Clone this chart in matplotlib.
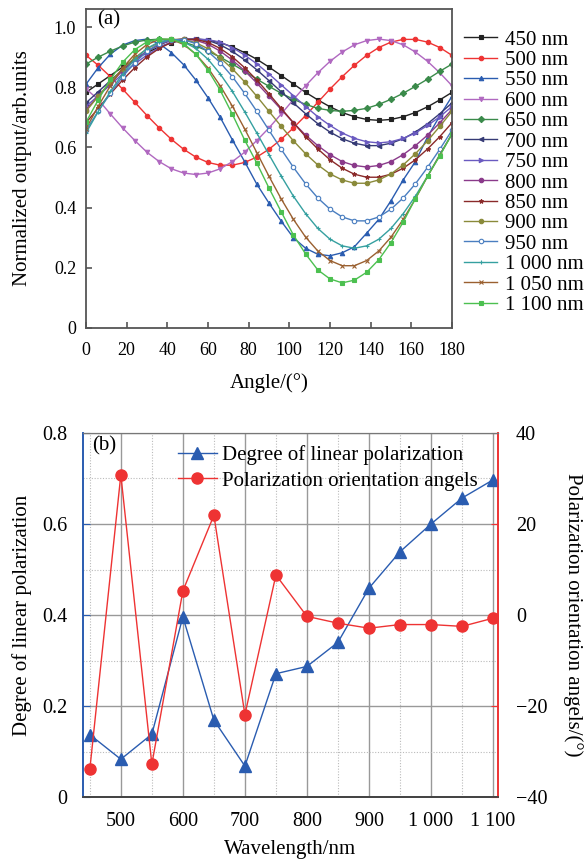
import matplotlib
matplotlib.use('Agg')
import matplotlib.pyplot as plt
from matplotlib.ticker import MultipleLocator

plt.rcParams['font.family'] = ['Liberation Serif', 'DejaVu Serif']
plt.rcParams['axes.unicode_minus'] = True

# ===== データ (a) =====
angles = [0, 6, 12, 18, 24, 30, 36, 42, 48, 54, 60, 66, 72, 78, 84, 90,
          96, 102, 108, 114, 120, 126, 132, 138, 144, 150, 156, 162, 168, 174, 180]

wl_labels = ['450 nm', '500 nm', '550 nm', '600 nm', '650 nm', '700 nm', '750 nm',
             '800 nm', '850 nm', '900 nm', '950 nm', '1 000 nm', '1 050 nm', '1 100 nm']

i450 = [0.783, 0.811, 0.839, 0.867, 0.893, 0.915, 0.934, 0.948, 0.957, 0.960, 0.957, 0.948, 0.934, 0.915, 0.893, 0.867,
        0.839, 0.811, 0.783, 0.758, 0.735, 0.716, 0.702, 0.693, 0.690, 0.693, 0.702, 0.716, 0.735, 0.758, 0.783]
i500 = [0.906, 0.873, 0.835, 0.794, 0.750, 0.706, 0.665, 0.627, 0.594, 0.568, 0.550, 0.541, 0.541, 0.550, 0.568, 0.594,
        0.627, 0.665, 0.706, 0.750, 0.794, 0.835, 0.873, 0.906, 0.932, 0.950, 0.959, 0.959, 0.950, 0.932, 0.906]
i550 = [0.810, 0.865, 0.910, 0.940, 0.955, 0.960, 0.945, 0.915, 0.875, 0.824, 0.765, 0.700, 0.625, 0.553, 0.478, 0.415,
        0.355, 0.300, 0.265, 0.245, 0.240, 0.250, 0.270, 0.315, 0.361, 0.423, 0.492, 0.553, 0.635, 0.705, 0.770]
i600 = [0.795, 0.759, 0.711, 0.665, 0.623, 0.584, 0.553, 0.529, 0.515, 0.510, 0.515, 0.529, 0.553, 0.584, 0.623, 0.665,
        0.711, 0.759, 0.805, 0.848, 0.886, 0.917, 0.941, 0.955, 0.960, 0.955, 0.941, 0.917, 0.886, 0.848, 0.805]
i650 = [0.877, 0.900, 0.920, 0.937, 0.950, 0.957, 0.960, 0.957, 0.950, 0.937, 0.920, 0.900, 0.877, 0.853, 0.827, 0.803,
        0.780, 0.760, 0.743, 0.730, 0.723, 0.720, 0.723, 0.730, 0.743, 0.760, 0.780, 0.803, 0.827, 0.853, 0.877]
i700 = [0.748, 0.785, 0.822, 0.858, 0.891, 0.919, 0.941, 0.956, 0.960, 0.960, 0.956, 0.941, 0.919, 0.891, 0.858, 0.822,
        0.785, 0.748, 0.712, 0.679, 0.651, 0.629, 0.614, 0.606, 0.606, 0.614, 0.629, 0.651, 0.679, 0.712, 0.748]
i750 = [0.736, 0.772, 0.808, 0.844, 0.878, 0.907, 0.932, 0.950, 0.958, 0.960, 0.958, 0.950, 0.932, 0.907, 0.878, 0.844,
        0.808, 0.772, 0.736, 0.702, 0.673, 0.648, 0.630, 0.619, 0.615, 0.619, 0.630, 0.648, 0.673, 0.702, 0.736]
i800 = [0.726, 0.770, 0.814, 0.855, 0.890, 0.920, 0.943, 0.956, 0.961, 0.956, 0.943, 0.920, 0.890, 0.855, 0.814, 0.770,
        0.726, 0.682, 0.641, 0.606, 0.576, 0.553, 0.540, 0.535, 0.540, 0.553, 0.576, 0.606, 0.641, 0.682, 0.726]
i850 = [0.682, 0.730, 0.778, 0.824, 0.865, 0.901, 0.929, 0.949, 0.959, 0.959, 0.949, 0.929, 0.901, 0.865, 0.824, 0.778,
        0.730, 0.682, 0.636, 0.595, 0.559, 0.531, 0.511, 0.501, 0.501, 0.511, 0.531, 0.559, 0.595, 0.636, 0.682]
i900 = [0.720, 0.770, 0.818, 0.861, 0.898, 0.928, 0.948, 0.959, 0.959, 0.948, 0.928, 0.898, 0.861, 0.818, 0.770, 0.720,
        0.670, 0.622, 0.579, 0.542, 0.512, 0.492, 0.481, 0.481, 0.492, 0.512, 0.542, 0.579, 0.622, 0.670, 0.720]
i950 = [0.657, 0.720, 0.780, 0.835, 0.882, 0.919, 0.945, 0.958, 0.958, 0.945, 0.919, 0.882, 0.835, 0.780, 0.720, 0.657,
        0.594, 0.534, 0.479, 0.432, 0.395, 0.369, 0.356, 0.356, 0.369, 0.395, 0.432, 0.479, 0.534, 0.594, 0.657]
i1000 = [0.648, 0.719, 0.786, 0.844, 0.893, 0.929, 0.951, 0.959, 0.951, 0.929, 0.893, 0.844, 0.786, 0.719, 0.648, 0.576,
         0.505, 0.438, 0.380, 0.331, 0.295, 0.273, 0.265, 0.273, 0.295, 0.331, 0.380, 0.438, 0.505, 0.576, 0.645]
i1050 = [0.662, 0.737, 0.805, 0.864, 0.910, 0.942, 0.959, 0.959, 0.942, 0.910, 0.864, 0.805, 0.737, 0.662, 0.583, 0.504,
         0.429, 0.361, 0.302, 0.256, 0.224, 0.207, 0.207, 0.224, 0.256, 0.302, 0.361, 0.429, 0.504, 0.575, 0.645]
i1100 = [0.684, 0.758, 0.826, 0.883, 0.925, 0.951, 0.960, 0.960, 0.945, 0.910, 0.857, 0.790, 0.710, 0.625, 0.548, 0.465,
         0.386, 0.309, 0.246, 0.193, 0.163, 0.150, 0.159, 0.185, 0.227, 0.284, 0.352, 0.430, 0.505, 0.572, 0.645]

# ===== データ (b) =====
wavelength = [450, 500, 550, 600, 650, 700, 750, 800, 850, 900, 950, 1000, 1050, 1100]
dolp = [0.137, 0.083, 0.138, 0.396, 0.169, 0.068, 0.271, 0.287, 0.340, 0.459, 0.539, 0.600, 0.657, 0.697]
orient = [-33.9, 30.8, -32.8, 5.3, 21.9, -21.9, 8.8, -0.3, -1.8, -2.9, -2.1, -2.1, -2.5, -0.7]

# ===== スタイル =====
curves = [i450, i500, i550, i600, i650, i700, i750, i800, i850, i900, i950, i1000, i1050, i1100]
colors = ['#222222', '#ee3333', '#2a5cb0', '#b068c0', '#3a8a4a', '#353a75', '#6a5ac0',
          '#8a3a8a', '#8a2a2a', '#8a8a3a', '#4a7ec0', '#35a0a0', '#9a6030', '#4cc050']
markers = ['s', 'o', '^', 'v', 'D', '<', '>', 'o', '*', 'o', 'o', '+', 'x', 's']

spine_c = '#555555'

fig = plt.figure(figsize=(5.88, 8.61), dpi=100)

# ===== (a) =====
ax = fig.add_axes([86 / 588, 1 - 328 / 861, 366 / 588, 319 / 861])
handles = []
for y, c, m, lab in zip(curves, colors, markers, wl_labels):
    face = 'white' if lab == '950 nm' else c
    h, = ax.plot(angles, y, color=c, marker=m, markersize=3.2, lw=1.0,
                 markerfacecolor=face, markeredgecolor=c, markeredgewidth=0.8, label=lab)
    handles.append(h)

ax.set_xlim(0, 180)
ax.set_ylim(0, 1.06)
ax.set_xticks(range(0, 181, 20))
ax.set_yticks([0, 0.2, 0.4, 0.6, 0.8, 1.0])
ax.set_yticklabels(['0', '0.2', '0.4', '0.6', '0.8', '1.0'])
ax.tick_params(direction='in', length=4, width=1.2, color=spine_c, labelsize=13,
               top=False, right=False)
ax.tick_params(axis='x', pad=10)
ax.tick_params(axis='y', pad=7)
for s in ax.spines.values():
    s.set_color(spine_c)
    s.set_linewidth(1.3)
ax.set_xlabel('Angle/(°)', fontsize=15)
ax.set_ylabel('Normalized output/arb.units', fontsize=15)
ax.xaxis.set_label_coords(0.5, -0.141)
ax.yaxis.set_label_coords(-0.148, 0.5)
ax.text(0.03, 0.995, '(a)', transform=ax.transAxes, fontsize=15, va='top', ha='left')

fig.legend(handles, wl_labels, loc='upper left', bbox_to_anchor=(464 / 588, 1 - 30 / 861),
           frameon=False, fontsize=15, handlelength=1.6, handletextpad=0.35,
           labelspacing=0.04, borderpad=0, borderaxespad=0)

# ===== (b) =====
bx = fig.add_axes([83 / 588, 1 - 797 / 861, 415 / 588, 364 / 861])
bx2 = bx.twinx()

blue = '#2a5cb0'
red = '#ee3333'
l1, = bx.plot(wavelength, dolp, color=blue, marker='^', markersize=8, lw=1.0,
              label='Degree of linear polarization', zorder=3)
l2, = bx2.plot(wavelength, orient, color=red, marker='o', markersize=8, lw=1.0,
               label='Polarization orientation angels', zorder=3)

bx.set_xlim(439, 1108)
bx.set_ylim(0, 0.8)
bx2.set_ylim(-40, 40)
bx.set_xticks([500, 600, 700, 800, 900, 1000, 1100])
bx.set_xticklabels(['500', '600', '700', '800', '900', '1 000', '1 100'])
bx.xaxis.set_minor_locator(MultipleLocator(50))
bx.set_yticks([0, 0.2, 0.4, 0.6, 0.8])
bx.set_yticklabels(['0', '0.2', '0.4', '0.6', '0.8'])
bx.yaxis.set_minor_locator(MultipleLocator(0.1))
bx2.set_yticks([-40, -20, 0, 20, 40])

bx.grid(which='major', color='#999999', lw=1.0, ls='-')
bx.grid(which='minor', color='#bbbbbb', lw=0.8, ls=(0, (1, 1.5)))
bx.set_axisbelow(True)

bx.tick_params(axis='x', which='both', length=0, labelsize=14.5, pad=11)
bx.tick_params(axis='y', which='major', direction='in', length=5, color=blue, labelsize=14.5, pad=11)
bx.tick_params(axis='y', which='minor', length=0)
bx2.tick_params(axis='y', direction='in', length=5, color=red, labelsize=14.5, pad=13)

for a in (bx, bx2):
    a.spines['top'].set_color('#777777')
    a.spines['bottom'].set_color('#444444')
    a.spines['bottom'].set_linewidth(1.3)
    a.spines['left'].set_color(blue)
    a.spines['right'].set_color(red)
    a.spines['left'].set_linewidth(1.2)
    a.spines['right'].set_linewidth(1.2)

bx.set_xlabel('Wavelength/nm', fontsize=15)
bx.set_ylabel('Degree of linear polarization', fontsize=15)
bx2.set_ylabel('Polarization orientation angels/(°)', fontsize=15, rotation=270)
bx.xaxis.set_label_coords(0.5, -0.118)
bx.yaxis.set_label_coords(-0.123, 0.5)
bx2.yaxis.set_label_coords(1.205, 0.5)
bx.text(0.022, 0.99, '(b)', transform=bx.transAxes, fontsize=15, va='top', ha='left')

bx2.legend([l1, l2], ['Degree of linear polarization', 'Polarization orientation angels'],
           loc='upper left', bbox_to_anchor=(178 / 588, 1 - 445 / 861), bbox_transform=fig.transFigure,
           frameon=False, fontsize=15, handlelength=1.85, handletextpad=0.25,
           labelspacing=0.3, borderpad=0, borderaxespad=0)

fig.savefig('out.png', dpi=100)
